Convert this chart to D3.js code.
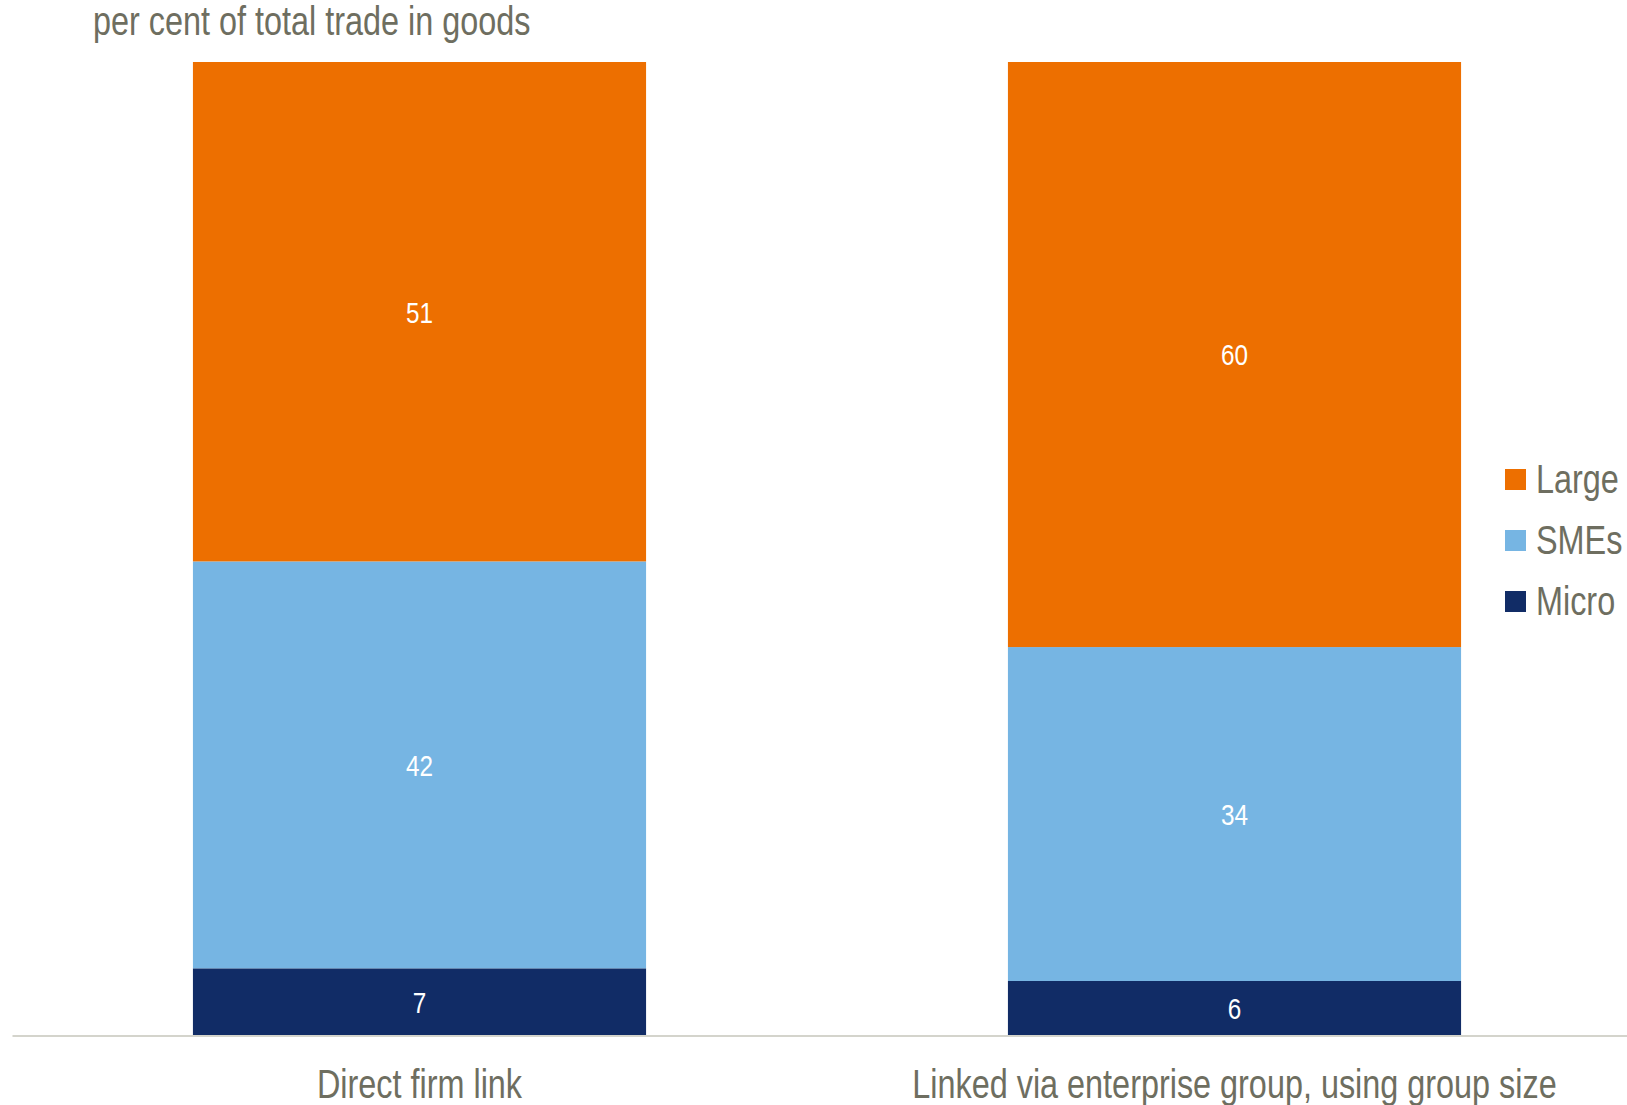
<!DOCTYPE html>
<html>
<head>
<meta charset="utf-8">
<script src="https://cdn.jsdelivr.net/npm/d3@7"></script>
<style>
  body { margin: 0; background: #fff; }
  svg text { font-family: "Liberation Sans", Arial, sans-serif; }
</style>
</head>
<body>
<svg id="chart" width="1627" height="1105"></svg>
<script>
// data (labels show the rounded values)
const categories = ["Direct firm link", "Linked via enterprise group, using group size"];
const seriesNames = ["Micro", "SMEs", "Large"];
const micro = [6.9, 5.6];
const smes = [41.8, 34.3];
const large = [51.3, 60.1];
const legendOrder = ["Large", "SMEs", "Micro"];
const yLabel = "per cent of total trade in goods";

const colors = { Micro: "#112c66", SMEs: "#76b5e3", Large: "#ed6f00" };
const textGrey = "#6e6e60";
// no narrow font installed, so squeeze the regular one
const narrow = 0.81;

const svg = d3.select("#chart");
const plotTop = 62, plotBottom = 1035.5;

// rows for the stack
const rows = categories.map((c, i) => ({ cat: c, Micro: micro[i], SMEs: smes[i], Large: large[i] }));
const stacked = d3.stack().keys(seriesNames)(rows);

const x = d3.scaleBand().domain(categories).range([12, 1642]).paddingInner(0.444).paddingOuter(0.222);
const y = d3.scaleLinear().domain([0, 100]).range([plotBottom, plotTop]);

// bars
const layers = svg.selectAll("g.layer")
  .data(stacked)
  .enter()
  .append("g")
  .attr("class", "layer")
  .attr("fill", (d) => colors[d.key]);

layers.selectAll("rect")
  .data((d) => d)
  .enter()
  .append("rect")
  .attr("x", (d) => x(d.data.cat))
  .attr("y", (d) => y(d[1]))
  .attr("width", x.bandwidth())
  .attr("height", (d) => y(d[0]) - y(d[1]));

// value labels
layers.selectAll("text")
  .data((d) => d.map((v) => ({ v: v, key: d.key })))
  .enter()
  .append("text")
  .attr("transform", (d) => "translate(" + (x(d.v.data.cat) + x.bandwidth() / 2) + "," + (y(d.v[0]) + y(d.v[1])) / 2 + ") scale(" + narrow + ",1)")
  .attr("dy", "0.36em")
  .attr("text-anchor", "middle")
  .attr("fill", "#fff")
  .style("font-size", "30px")
  .text((d) => Math.round(d.v.data[d.key]));

// x axis
const xAxis = d3.axisBottom(x).tickSize(0).tickPadding(0);
const gx = svg.append("g").attr("transform", "translate(0," + plotBottom + ")").call(xAxis);
gx.select(".domain").attr("stroke", "#d4d4cc").attr("stroke-width", 2);
gx.selectAll("text")
  .attr("y", 0)
  .attr("dy", 0)
  .attr("transform", "translate(0,62) scale(" + narrow + ",1)")
  .attr("fill", textGrey)
  .style("font-size", "40px")
  .style("font-family", "'Liberation Sans', Arial, sans-serif");

// axis title
svg.append("text")
  .attr("transform", "translate(93,35) scale(" + narrow + ",1)")
  .attr("fill", textGrey)
  .style("font-size", "40px")
  .text(yLabel);

// legend
const legend = svg.selectAll("g.legend")
  .data(legendOrder)
  .enter()
  .append("g")
  .attr("class", "legend")
  .attr("transform", (d, i) => "translate(1505," + (469 + i * 61) + ")");

legend.append("rect")
  .attr("width", 21)
  .attr("height", 21)
  .attr("fill", (d) => colors[d]);

legend.append("text")
  .attr("transform", "translate(31,24) scale(" + narrow + ",1)")
  .attr("fill", textGrey)
  .style("font-size", "40px")
  .text((d) => d);
</script>
</body>
</html>
